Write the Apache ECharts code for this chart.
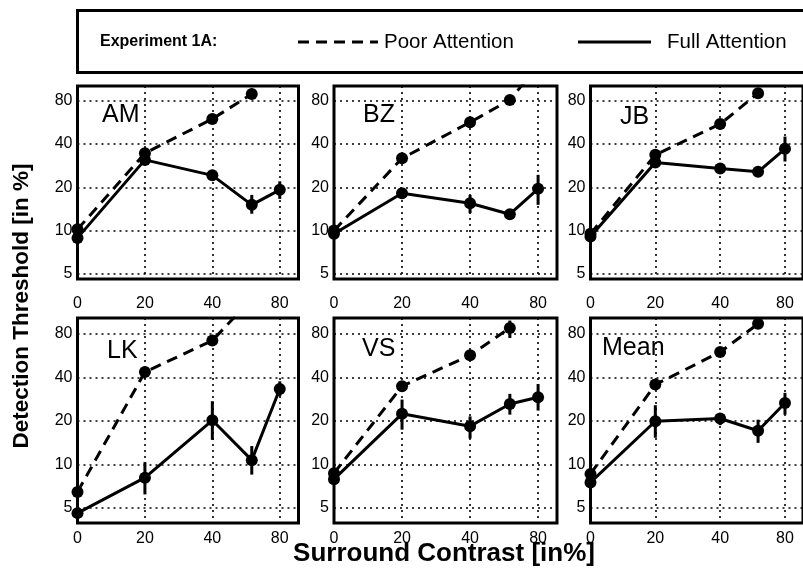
<!DOCTYPE html>
<html><head><meta charset="utf-8">
<script src="https://cdn.jsdelivr.net/npm/echarts@6/dist/echarts.min.js"></script>
<style>html,body{margin:0;padding:0;background:#fff}#c{width:803px;height:576px}</style>
</head><body><div id="c"></div>
<script>
// ---- data ----
const contrasts = [0, 20, 40, 60, 80];          // surround contrast [%]
const ZERO_POS = 10;                             // contrast 0 is drawn one octave below 20
const xTickValues = [10, 20, 40, 80];
const xTickLabels = ['0', '20', '40', '80'];
const yTickValues = [5, 10, 20, 40, 80];
const panelNames = ['AM', 'BZ', 'JB', 'LK', 'VS', 'Mean'];

// Full attention (solid) thresholds [%] and error bar limits
const fullAM   = [8.9, 31, 24.2, 15.1, 19.2];
const fullAMLo = [null, null, 22.3, 13.1, 16.6];
const fullAMHi = [null, null, 26.4, 17.7, 22.0];
const fullBZ   = [9.5, 18.2, 15.5, 13, 19.5];
const fullBZLo = [null, null, 13.2, null, 15.1];
const fullBZHi = [null, null, 17.7, null, 24.4];
const fullJB   = [9.1, 29.7, 27, 25.6, 37];
const fullJBLo = [null, null, null, 23.8, 30.2];
const fullJBHi = [null, null, null, 27.5, 45];
const fullLK   = [4.6, 8.1, 20.2, 10.7, 33.3];
const fullLKLo = [null, 6.2, 14.8, 8.5, 29.6];
const fullLKHi = [null, 10.35, 27.4, 13.4, 37.6];
const fullVS   = [7.9, 22.4, 18.4, 26.2, 29.2];
const fullVSLo = [null, 17.4, 15.1, 22.1, 23.6];
const fullVSHi = [null, 28.1, 21.5, 30.8, 36];
const fullMean   = [7.5, 19.9, 20.8, 17.1, 26.6];
const fullMeanLo = [null, 15.3, 18.7, 14.1, 22.1];
const fullMeanHi = [null, 25.7, 22.7, 20.4, 31.3];

// Poor attention (dashed) thresholds [%]
const poorAM   = [10.2, 34.5, 59.7, 89, null];
const poorBZ   = [10, 31.8, 56.6, 80.8, 140];
const poorJB   = [9.5, 33.6, 55, 90, null];
const poorLK   = [6.45, 43.6, 72, 140, null];
const poorVS   = [8.7, 34.8, 57, 88, null];
const poorVSLo = [null, null, null, 75, null];
const poorVSHi = [null, null, null, 99, null];
const poorMean = [8.6, 35.7, 60, 94, null];

const panelFull = [fullAM, fullBZ, fullJB, fullLK, fullVS, fullMean];
const panelFullLo = [fullAMLo, fullBZLo, fullJBLo, fullLKLo, fullVSLo, fullMeanLo];
const panelFullHi = [fullAMHi, fullBZHi, fullJBHi, fullLKHi, fullVSHi, fullMeanHi];
const panelPoor = [poorAM, poorBZ, poorJB, poorLK, poorVS, poorMean];
const panelPoorLo = [null, null, null, null, poorVSLo, null];
const panelPoorHi = [null, null, null, null, poorVSHi, null];

// ---- layout ----
const FONT = 'Liberation Sans, Arial, sans-serif';
const colLeft = [77.5, 334, 590.5];
const colWidth = [221, 223, 221];
const rowTop = [86, 318];
const rowHeight = [193, 205];
const rowYMin = [4.61, 3.93];
const rowYMax = [101.1, 103.2];
const rowXLabelMargin = [17, 8];
const X_MIN = 10, X_MAX = 97;
const labelPos = [[102, 115], [363, 115], [620, 117], [107, 351], [362, 349], [602, 348]];

const xPos = c => (c === 0 ? ZERO_POS : c);
const pts = arr => contrasts.map((c, i) => [xPos(c), arr[i]]).filter(p => p[1] != null);
const errRows = (vals, lo, hi) => lo ? contrasts.map((c, i) => [xPos(c), lo[i], hi[i]]).filter(r => r[1] != null) : [];

const grids = [], xAxes = [], yAxes = [], series = [], graphics = [];

panelNames.forEach((name, i) => {
  const row = Math.floor(i / 3), col = i % 3;
  grids.push({
    left: colLeft[col], top: rowTop[row], width: colWidth[col], height: rowHeight[row],
    show: true, borderColor: '#000', borderWidth: 3, backgroundColor: '#fff', z: 0
  });
  xAxes.push({
    type: 'log', logBase: 2, gridIndex: i, min: X_MIN, max: X_MAX,
    axisLine: { show: false }, axisTick: { show: false, customValues: xTickValues },
    axisLabel: {
      customValues: xTickValues, margin: rowXLabelMargin[row],
      fontSize: 16, color: '#000', fontFamily: FONT,
      formatter: v => xTickLabels[xTickValues.indexOf(Math.round(v))] ?? ''
    },
    splitLine: { show: true, lineStyle: { color: '#000', width: 1.6, type: [2, 4] } }
  });
  yAxes.push({
    type: 'log', logBase: 2, gridIndex: i, min: rowYMin[row], max: rowYMax[row],
    axisLine: { show: false }, axisTick: { show: false, customValues: yTickValues },
    axisLabel: {
      customValues: yTickValues, margin: 5,
      fontSize: 16, color: '#000', fontFamily: FONT,
      formatter: v => String(Math.round(v))
    },
    splitLine: { show: true, lineStyle: { color: '#000', width: 1.6, type: [2, 4] } }
  });

  const errRenderer = (params, api) => {
    const x = api.value(0);
    const p1 = api.coord([x, api.value(1)]);
    const p2 = api.coord([x, api.value(2)]);
    return { type: 'line', shape: { x1: p1[0], y1: p1[1], x2: p2[0], y2: p2[1] },
             style: { stroke: '#000', lineWidth: 3 } };
  };

  series.push({
    name: 'Poor Attention', type: 'line', xAxisIndex: i, yAxisIndex: i,
    data: pts(panelPoor[i]), clip: true, z: 3,
    lineStyle: { color: '#000', width: 3, type: [11, 7] },
    symbol: 'circle', symbolSize: 12, itemStyle: { color: '#000' }, animation: false
  });
  series.push({
    name: 'Full Attention', type: 'line', xAxisIndex: i, yAxisIndex: i,
    data: pts(panelFull[i]), clip: true, z: 4,
    lineStyle: { color: '#000', width: 3 },
    symbol: 'circle', symbolSize: 12, itemStyle: { color: '#000' }, animation: false
  });
  series.push({
    type: 'custom', xAxisIndex: i, yAxisIndex: i, z: 2, clip: true,
    data: errRows(panelFull[i], panelFullLo[i], panelFullHi[i]),
    encode: { x: 0, y: [1, 2] }, renderItem: errRenderer, animation: false
  });
  if (panelPoorLo[i]) {
    series.push({
      type: 'custom', xAxisIndex: i, yAxisIndex: i, z: 2, clip: true,
      data: errRows(panelPoor[i], panelPoorLo[i], panelPoorHi[i]),
      encode: { x: 0, y: [1, 2] }, renderItem: errRenderer, animation: false
    });
  }

  graphics.push({
    type: 'text', x: labelPos[i][0], y: labelPos[i][1], z: 10,
    style: { text: name, font: `25px ${FONT}`, fill: '#000', verticalAlign: 'middle' }
  });
});

// legend box and axis titles
graphics.push(
  { type: 'rect', shape: { x: 77.5, y: 10.5, width: 760, height: 62 },
    style: { fill: 'none', stroke: '#000', lineWidth: 3 } },
  { type: 'text', x: 100, y: 42, style: { text: 'Experiment 1A:', font: `bold 16px ${FONT}`, fill: '#000', verticalAlign: 'middle' } },
  { type: 'line', shape: { x1: 298, y1: 42, x2: 378, y2: 42 }, style: { stroke: '#000', lineWidth: 3, lineDash: [11, 7] } },
  { type: 'text', x: 384, y: 42, style: { text: 'Poor Attention', font: `20.5px ${FONT}`, fill: '#000', verticalAlign: 'middle' } },
  { type: 'line', shape: { x1: 578, y1: 42, x2: 651, y2: 42 }, style: { stroke: '#000', lineWidth: 3 } },
  { type: 'text', x: 667, y: 42, style: { text: 'Full Attention', font: `20.5px ${FONT}`, fill: '#000', verticalAlign: 'middle' } },
  { type: 'text', x: 22, y: 306, rotation: Math.PI / 2,
    style: { text: 'Detection Threshold [in %]', font: `bold 22.5px ${FONT}`, fill: '#000', align: 'center', verticalAlign: 'middle' } },
  { type: 'text', x: 444, y: 554,
    style: { text: 'Surround Contrast [in%]', font: `bold 26px ${FONT}`, fill: '#000', align: 'center', verticalAlign: 'middle' } }
);

const chart = echarts.init(document.getElementById('c'), null, { renderer: 'canvas' });
chart.setOption({
  animation: false,
  backgroundColor: '#fff',
  grid: grids, xAxis: xAxes, yAxis: yAxes, series: series, graphic: graphics
});
</script></body></html>
